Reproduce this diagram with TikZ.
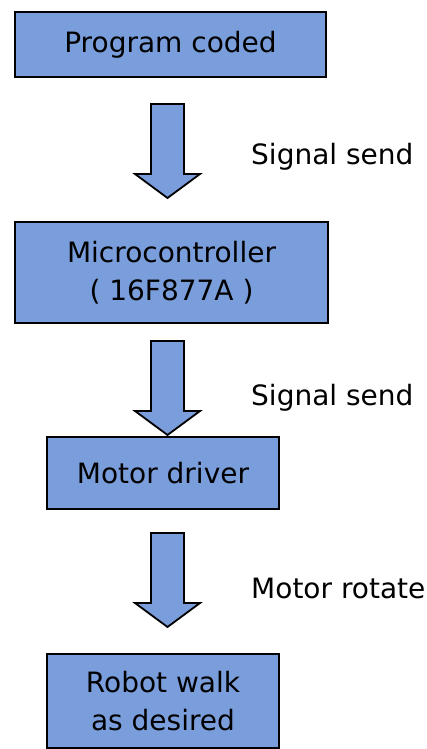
\documentclass[tikz,border=0pt]{standalone}
\usepackage{fontspec}
\setmainfont{DejaVu Sans}
\usetikzlibrary{positioning,calc}
\definecolor{boxblue}{RGB}{122,157,219}

\tikzset{
  stage/.style={draw=black, line width=1.8pt, fill=boxblue, align=center,
                font=\fontsize{28}{38}\selectfont, inner sep=0pt},
  note/.style={font=\fontsize{28}{34}\selectfont, anchor=base west, inner sep=0pt},
  flow/.style={draw=black, line width=1.8pt, fill=boxblue, line join=miter}
}

% block arrow hanging down from a top-centre coordinate
\newcommand{\flowarrow}[1]{%
  \draw[flow] ($(#1)+(-16.5,0)$) -- ++(0,70) -- ++(-16,0) -- ($(#1)+(0,94)$)
    -- ($(#1)+(32.5,70)$) -- ++(-16,0) -- ($(#1)+(16.5,0)$) -- cycle;}

\begin{document}
\begin{tikzpicture}[x=1pt,y=-1pt]
\useasboundingbox (0,0) rectangle (427,749);

\node[stage, minimum width=311pt, minimum height=65pt] (prog) at (170.5,44.5) {Program coded};
\node[stage, minimum width=313pt, minimum height=101pt] (mcu) at (171.5,272.5)
    {Microcontroller\\( 16F877A )};
\node[stage, minimum width=232pt, minimum height=72pt] (drv) at (163,473) {Motor driver};
\node[stage, minimum width=232pt, minimum height=94pt] (robot) at (163,701)
    {Robot walk\\as desired};

\coordinate (a1) at (167.5,104);
\coordinate (a2) at (167.5,341);
\coordinate (a3) at (167.5,533);
\flowarrow{a1}
\flowarrow{a2}
\flowarrow{a3}

\node[note] (l1) at (251,164) {Signal send};
\node[note] (l2) at (251,405) {Signal send};
\node[note] (l3) at (251,598) {Motor rotate};
\end{tikzpicture}
\end{document}
